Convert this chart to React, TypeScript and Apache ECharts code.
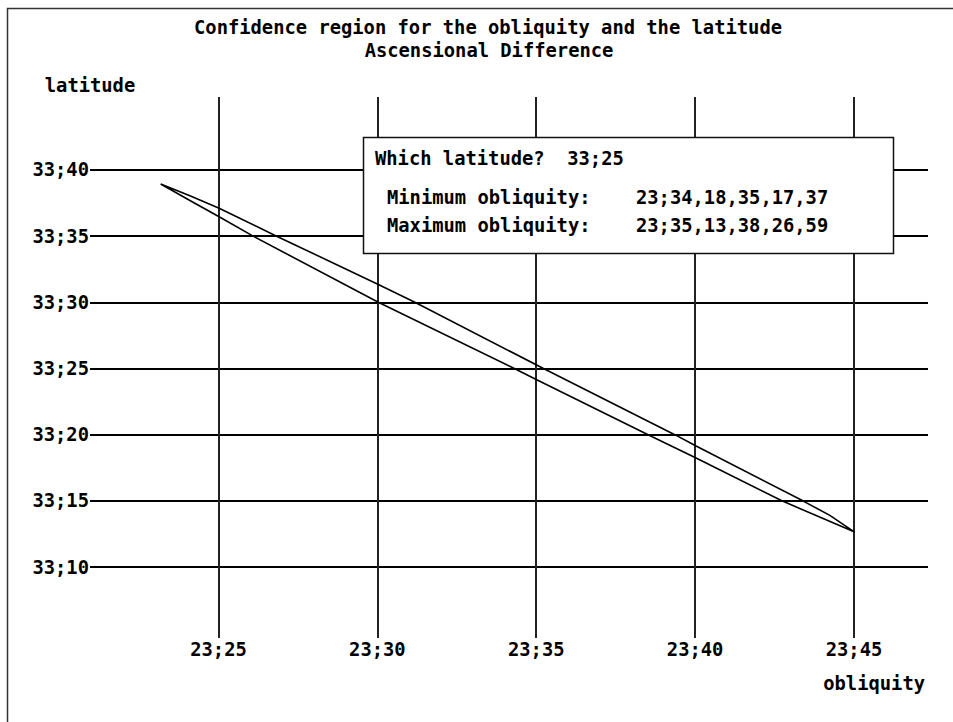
import React, { useEffect, useRef } from "react";
import * as echarts from "echarts";

// Axes are in arc-minutes past 23° (obliquity) and past 33° (latitude).
const obliquityTicks = [25, 30, 35, 40, 45];
const latitudeTicks = [10, 15, 20, 25, 30, 35, 40];
const obliquityDegrees = 23;
const latitudeDegrees = 33;

// Sexagesimal results for the queried latitude 33;25
const queryLatitude = [33, 25];
const minObliquity = [23, 34, 18, 35, 17, 37];
const maxObliquity = [23, 35, 13, 38, 26, 59];

const sexToMinutes = (s: number[]) =>
  s.slice(1).reduce((acc, d, i) => acc + d / Math.pow(60, i), 0);
const fmtSex = (s: number[]) => `${s[0]};${s.slice(1).join(",")}`;

// Upper boundary of the confidence region, left to right
const upperObliquity = [23.18, 24.1, 25.02, 26.83, 30.03, 31.18, sexToMinutes(maxObliquity), 39.36, 40.03, 43.39, 44.24, 45.02];
const upperLatitude = [38.94, 38.06, 37.11, 35.0, 31.35, 30.0, sexToMinutes(queryLatitude), 20.0, 19.14, 15.0, 13.9, 12.64];
// Lower boundary of the confidence region, left to right
const lowerObliquity = [23.18, 24.1, 25.02, 26.09, 30.03, sexToMinutes(minObliquity), 35.03, 38.52, 40.03, 42.73, 45.02];
const lowerLatitude = [38.94, 37.7, 36.47, 35.0, 30.0, sexToMinutes(queryLatitude), 24.13, 20.0, 18.23, 15.0, 12.64];

const FONT = '"DejaVu Sans Mono", "Liberation Mono", monospace';
const FS = 18.8;

export default function App() {
  const ref = useRef<HTMLDivElement>(null);

  useEffect(() => {
    if (!ref.current) return;
    const chart = echarts.init(ref.current, undefined, { renderer: "svg" });

    const region: number[][] = [];
    upperObliquity.forEach((x, i) => region.push([x, upperLatitude[i]]));
    for (let i = lowerObliquity.length - 2; i >= 0; i--) {
      region.push([lowerObliquity[i], lowerLatitude[i]]);
    }

    const labelStyle = {
      color: "#000",
      fontFamily: FONT,
      fontSize: FS,
      fontWeight: "bold" as const,
    };
    const textFont = `bold ${FS}px ${FONT}`;
    const boxText = (text: string, x: number, y: number) => ({
      type: "text",
      z: 101,
      x,
      y,
      style: { text, font: textFont, fill: "#000", verticalAlign: "middle" },
    });

    chart.setOption({
      animation: false,
      backgroundColor: "#fff",
      grid: { left: 90, right: 25, top: 97, bottom: 84 },
      xAxis: {
        type: "value",
        min: 20.956,
        max: 47.329,
        axisLine: { show: false },
        axisTick: { show: false, customValues: obliquityTicks },
        axisLabel: {
          ...labelStyle,
          customValues: obliquityTicks,
          margin: 2,
          formatter: (v: number) => `${obliquityDegrees};${v}`,
        },
        splitLine: { show: true, lineStyle: { color: "#222", width: 2 } },
      },
      yAxis: {
        type: "value",
        min: 4.635,
        max: 45.516,
        name: "latitude",
        nameLocation: "end",
        nameGap: 2,
        nameTextStyle: { ...labelStyle, align: "center" },
        axisLine: { show: false },
        axisTick: { show: false, customValues: latitudeTicks },
        axisLabel: {
          ...labelStyle,
          customValues: latitudeTicks,
          margin: 1,
          formatter: (v: number) => `${latitudeDegrees};${v}`,
        },
        splitLine: { show: true, lineStyle: { color: "#000", width: 2 } },
      },
      series: [
        {
          type: "line",
          data: region,
          symbol: "none",
          smooth: false,
          lineStyle: { color: "#000", width: 1.6 },
        },
      ],
      graphic: [
        {
          type: "polyline",
          silent: true,
          shape: { points: [[7.5, 722], [7.5, 8.5], [953, 8.5]] },
          style: { stroke: "#333", lineWidth: 1.5, fill: null },
        },
        {
          type: "text",
          x: 488,
          y: 27,
          style: { text: "Confidence region for the obliquity and the latitude", font: textFont, fill: "#000", align: "center", verticalAlign: "middle" },
        },
        {
          type: "text",
          x: 489,
          y: 50,
          style: { text: "Ascensional Difference", font: textFont, fill: "#000", align: "center", verticalAlign: "middle" },
        },
        {
          type: "text",
          x: 925,
          y: 683,
          style: { text: "obliquity", font: textFont, fill: "#000", align: "right", verticalAlign: "middle" },
        },
        {
          type: "rect",
          z: 100,
          shape: { x: 363.5, y: 137.5, width: 530, height: 116 },
          style: { fill: "#fff", stroke: "#111", lineWidth: 1.5 },
        },
        boxText(`Which latitude?  ${queryLatitude[0]};${queryLatitude[1]}`, 375, 158),
        boxText("Minimum obliquity:", 387, 197),
        boxText(fmtSex(minObliquity), 636, 197),
        boxText("Maximum obliquity:", 387, 225),
        boxText(fmtSex(maxObliquity), 636, 225),
      ],
    });

    return () => chart.dispose();
  }, []);

  return (
    <div
      ref={ref}
      style={{ position: "fixed", left: 0, top: 0, width: 953, height: 722, background: "#fff" }}
    />
  );
}
